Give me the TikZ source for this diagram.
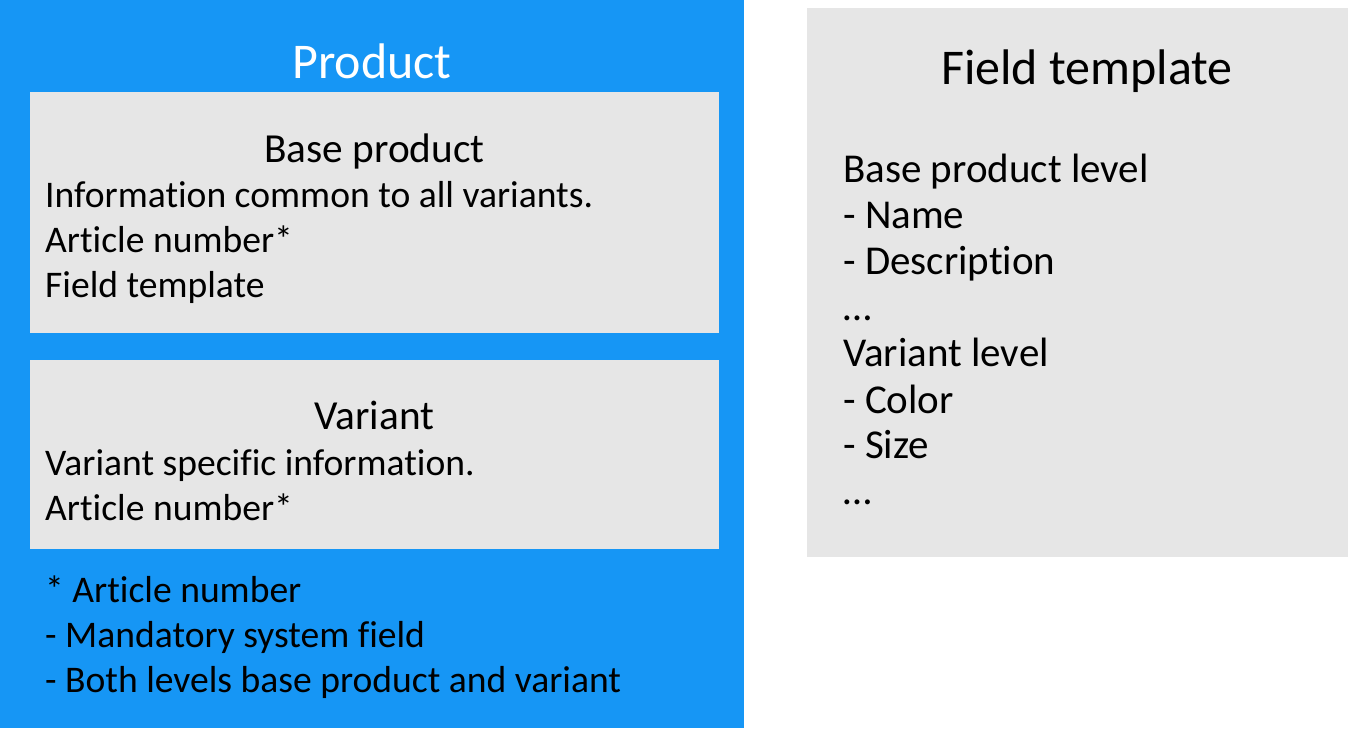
\documentclass[tikz,border=0pt]{standalone}
\usepackage{fontspec}
\setmainfont{Carlito}[Ligatures={NoCommon}]
\definecolor{pblue}{HTML}{1696F5}
\definecolor{pgray}{HTML}{E6E6E6}
\begin{document}
\begin{tikzpicture}[x=1pt,y=-1pt,
  txt/.style={anchor=base west,inner sep=0pt,font=\fontsize{37.6}{44}\selectfont},
  rtxt/.style={anchor=base west,inner sep=0pt,font=\fontsize{41}{48}\selectfont},
  ttl/.style={anchor=base,inner sep=0pt,font=\fontsize{41.3}{48}\selectfont},
  big/.style={anchor=base,inner sep=0pt,font=\fontsize{50}{58}\selectfont}]
\useasboundingbox (0,0) rectangle (1348,728);
\fill[white] (0,0) rectangle (1348,728);
\fill[pblue] (0,0) rectangle (744,728);
\fill[pgray] (30,92) rectangle (719,333);
\fill[pgray] (30,360) rectangle (719,549);
\fill[pgray] (807,8) rectangle (1348,557);
\node[big,text=white] (prod) at (372,78) {Product};
\node[ttl] (bp) at (374.5,162) {Base product};
\node[txt] (bp1) at (45,207) {Information common to all variants.};
\node[txt] (bp2) at (45,252) {Article number*};
\node[txt] (bp3) at (45,297) {Field template};
\node[ttl] (var) at (374.5,429) {Variant};
\node[txt] (v1) at (45,475) {Variant specific information.};
\node[txt] (v2) at (45,520) {Article number*};
\node[txt] (f1) at (45,602) {* Article number};
\node[txt] (f2) at (45,647) {- Mandatory system field};
\node[txt] (f3) at (45,692) {- Both levels base product and variant};
\node[big] (ft) at (1087,84) {Field template};
\node[rtxt] (r1) at (843,182) {Base product level};
\node[rtxt] (r2) at (843,228) {- Name};
\node[rtxt] (r3) at (843,274) {- Description};
\node[rtxt] (r4) at (843,320) {…};
\node[rtxt] (r5) at (843,366) {Variant level};
\node[rtxt] (r6) at (843,413) {- Color};
\node[rtxt] (r7) at (843,458) {- Size};
\node[rtxt] (r8) at (843,504) {…};
\end{tikzpicture}
\end{document}
